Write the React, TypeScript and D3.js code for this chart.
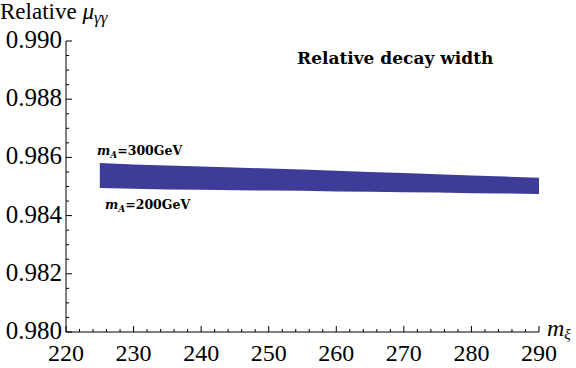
import React from "react";
import { scaleLinear, area, range } from "d3";

// masses along the x axis (GeV)
const masses = [225, 230, 235, 240, 245, 250, 255, 260, 265, 270, 275, 280, 285, 290];
// upper edge of the band (m_A = 300 GeV)
const upper300 = [0.98581, 0.98576, 0.98572, 0.98569, 0.98565, 0.98562, 0.98558, 0.98554, 0.9855, 0.98546, 0.98542, 0.98538, 0.98534, 0.9853];
// lower edge of the band (m_A = 200 GeV)
const lower200 = [0.98495, 0.98492, 0.9849, 0.98489, 0.98487, 0.98486, 0.98485, 0.98483, 0.98482, 0.9848, 0.98479, 0.98477, 0.98476, 0.98474];
const xTicks = [220, 230, 240, 250, 260, 270, 280, 290];
const yTicks = [0.98, 0.982, 0.984, 0.986, 0.988, 0.99];

const W = 576;
const H = 368;
const left = 66;
const right = 539;
const top = 41;
const bottom = 332;

export default function App() {
  const x = scaleLinear().domain([220, 290]).range([left, right]);
  const y = scaleLinear().domain([0.98, 0.99]).range([bottom, top]);

  const band = area<number>()
    .x((d, i) => x(masses[i]))
    .y0((d, i) => y(lower200[i]))
    .y1((d) => y(d));

  const xMinor = range(220, 290.01, 2).filter((v) => v % 10 !== 0);
  const yMinor = range(0, 21).map((i) => 0.98 + i * 0.0005).filter((_, i) => i % 4 !== 0);
  const serif = "'Liberation Serif', 'Times New Roman', serif";
  const boldSerif = "'DejaVu Serif', serif";

  return (
    <svg width={W} height={H} style={{ position: "absolute", left: 0, top: 0, background: "#fff" }}>
      <path d={band(upper300) || ""} fill="#3d3d99" />

      {/* axes */}
      <line x1={left} x2={right} y1={bottom} y2={bottom} stroke="#000" strokeWidth={1} />
      <line x1={left} x2={left} y1={top} y2={bottom} stroke="#000" strokeWidth={1} />
      {xTicks.map((t) => (
        <g key={"x" + t}>
          <line x1={x(t)} x2={x(t)} y1={bottom} y2={bottom - 6} stroke="#000" />
          <text x={x(t)} y={361} textAnchor="middle" fontFamily={serif} fontSize={24}>{t}</text>
        </g>
      ))}
      {xMinor.map((t) => (
        <line key={"xm" + t} x1={x(t)} x2={x(t)} y1={bottom} y2={bottom - 3} stroke="#000" />
      ))}
      {yTicks.map((t) => (
        <g key={"y" + t}>
          <line x1={left} x2={left + 6} y1={y(t)} y2={y(t)} stroke="#000" />
          <text x={62} y={y(t) + 7} textAnchor="end" fontFamily={serif} fontSize={25}>{t.toFixed(3)}</text>
        </g>
      ))}
      {yMinor.map((t) => (
        <line key={"ym" + t} x1={left} x2={left + 3} y1={y(t)} y2={y(t)} stroke="#000" />
      ))}

      {/* axis labels */}
      <text x={0} y={19} fontFamily={serif} fontSize={23}>
        Relative <tspan fontStyle="italic">μ</tspan>
        <tspan fontStyle="italic" fontSize={17} dy={4}>γγ</tspan>
      </text>
      <text x={547} y={336} fontFamily={serif} fontSize={24} fontStyle="italic">
        m<tspan fontSize={15} dy={3}>ξ</tspan>
      </text>

      {/* annotations */}
      <text x={297} y={64} fontFamily={boldSerif} fontWeight="bold" fontSize={17}>Relative decay width</text>
      <text x={97} y={155} fontFamily={boldSerif} fontWeight="bold" fontSize={12.5}>
        <tspan fontStyle="italic">m</tspan>
        <tspan fontStyle="italic" fontSize={9} dy={3}>A</tspan>
        <tspan dy={-3}>=300GeV</tspan>
      </text>
      <text x={105} y={209} fontFamily={boldSerif} fontWeight="bold" fontSize={12.5}>
        <tspan fontStyle="italic">m</tspan>
        <tspan fontStyle="italic" fontSize={9} dy={3}>A</tspan>
        <tspan dy={-3}>=200GeV</tspan>
      </text>
    </svg>
  );
}
